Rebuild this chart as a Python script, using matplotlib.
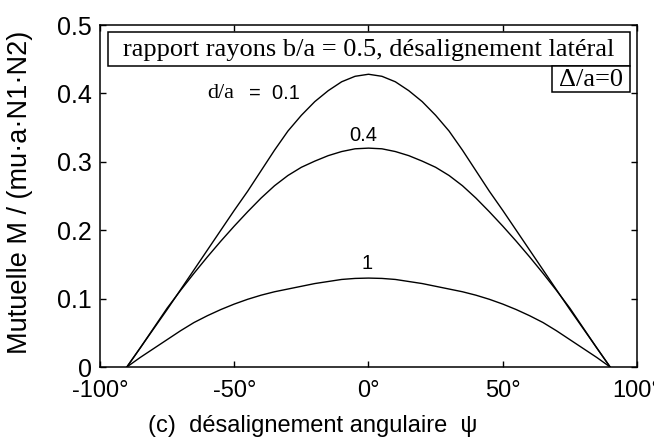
import matplotlib
matplotlib.use("Agg")
import matplotlib.pyplot as plt
from matplotlib.patches import Rectangle

plt.rcParams['font.family'] = ['Liberation Sans', 'DejaVu Sans']

# angular misalignment psi (degrees), sampled every 5 degrees
psi = [-90, -85, -80, -75, -70, -65, -60, -55, -50, -45, -40, -35, -30, -25, -20, -15, -10, -5,
       0, 5, 10, 15, 20, 25, 30, 35, 40, 45, 50, 55, 60, 65, 70, 75, 80, 85, 90]

# mutual inductance M / (mu*a*N1*N2) for three distances d/a
m_d01 = [0.0, 0.028, 0.056, 0.084, 0.113, 0.142, 0.171, 0.200, 0.229, 0.257, 0.287, 0.317,
         0.345, 0.368, 0.388, 0.404, 0.417, 0.425,
         0.428,
         0.425, 0.417, 0.404, 0.388, 0.368, 0.345, 0.317, 0.287, 0.257, 0.229, 0.200, 0.171,
         0.142, 0.113, 0.084, 0.056, 0.028, 0.0]
m_d04 = [0.0, 0.028, 0.057, 0.086, 0.112, 0.137, 0.161, 0.184, 0.206, 0.227, 0.247, 0.265,
         0.280, 0.292, 0.301, 0.309, 0.315, 0.319,
         0.320,
         0.319, 0.315, 0.309, 0.301, 0.292, 0.280, 0.265, 0.247, 0.227, 0.206, 0.184, 0.161,
         0.137, 0.112, 0.086, 0.057, 0.028, 0.0]
m_d1 = [0.0, 0.014, 0.027, 0.040, 0.053, 0.065, 0.075, 0.084, 0.092, 0.099, 0.105, 0.110,
        0.114, 0.118, 0.122, 0.125, 0.128, 0.1295,
        0.130,
        0.1295, 0.128, 0.125, 0.122, 0.118, 0.114, 0.110, 0.105, 0.099, 0.092, 0.084, 0.075,
        0.065, 0.053, 0.040, 0.027, 0.014, 0.0]

xticks = [-100, -50, 0, 50, 100]
xticklabels = ['-100°', '-50°', '0°', '50°', '100°']
yticks = [0, 0.1, 0.2, 0.3, 0.4, 0.5]
yticklabels = ['0', '0.1', '0.2', '0.3', '0.4', '0.5']

fig = plt.figure(figsize=(6.54, 4.41), dpi=100)
ax = fig.add_axes([0.1529, 0.1678, 0.8211, 0.7755])

for m in (m_d01, m_d04, m_d1):
    ax.plot(psi, m, color='black', lw=1.0)

ax.set_xlim(-100, 100)
ax.set_ylim(0, 0.5)
ax.set_xticks(xticks)
ax.set_xticklabels(xticklabels)
ax.set_yticks(yticks)
ax.set_yticklabels(yticklabels)
ax.tick_params(direction='in', length=4, width=1, top=True, right=True, pad=6)
ax.tick_params(axis='x', pad=9, labelsize=17)
ax.tick_params(axis='y', labelsize=18)
for s in ax.spines.values():
    s.set_linewidth(1.1)

ax.set_xlabel('(c)  désalignement angulaire  ψ', fontsize=17)
ax.xaxis.set_label_coords(0.397, -0.14)
ax.set_ylabel('Mutuelle M / (mu·a·N1·N2)', fontsize=19.5)
ax.yaxis.set_label_coords(-0.125, 0.51)

# curve labels
ax.text(-55, 0.40, 'd/a', family='Liberation Serif', fontsize=16, ha='center', va='center')
ax.text(-35, 0.40, '=  0.1', fontsize=14.5, ha='center', va='center')
ax.text(-2, 0.339, '0.4', fontsize=14.5, ha='center', va='center')
ax.text(-0.6, 0.152, '1', fontsize=14.5, ha='center', va='center')

# title boxes
ax.add_patch(Rectangle((0.0149, 0.880), 0.9721, 0.0995, transform=ax.transAxes,
                       fc='white', ec='black', lw=1.1, zorder=3))
ax.add_patch(Rectangle((0.8417, 0.804), 0.1453, 0.076, transform=ax.transAxes,
                       fc='white', ec='black', lw=1.1, zorder=3))
ax.text(0.501, 0.928, 'rapport rayons b/a = 0.5, désalignement latéral', transform=ax.transAxes,
        family='Liberation Serif', fontsize=19, ha='center', va='center', zorder=4)
ax.text(0.914, 0.840, 'Δ/a=0', transform=ax.transAxes,
        family='Liberation Serif', fontsize=19, ha='center', va='center', zorder=4)

fig.savefig('out.png', dpi=100)
